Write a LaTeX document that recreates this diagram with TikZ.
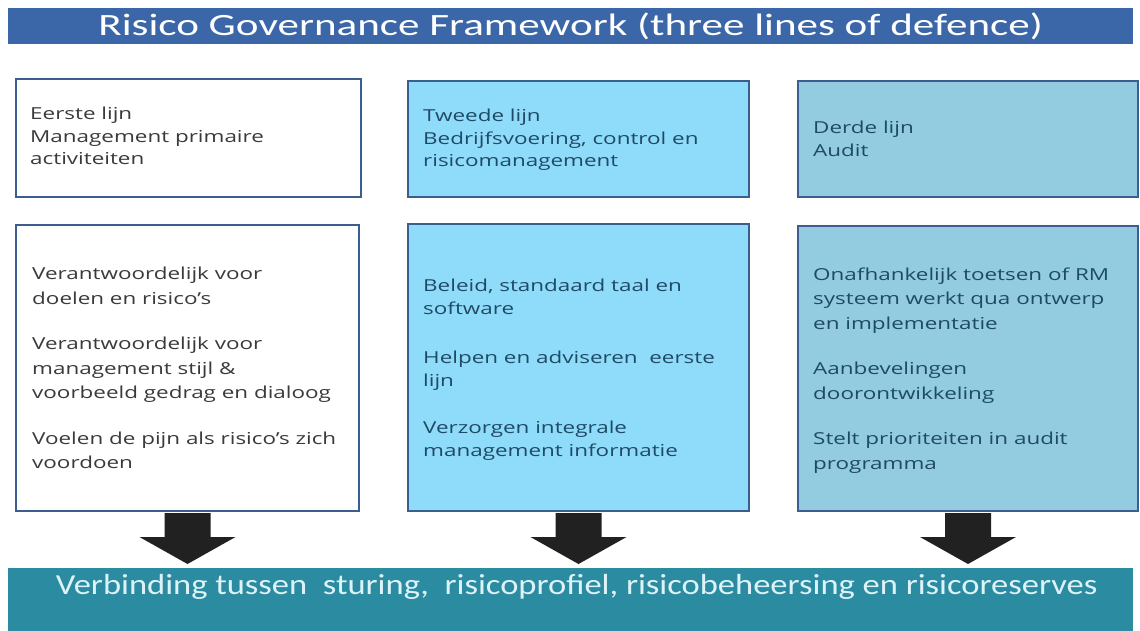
\documentclass[tikz,border=0pt]{standalone}
\usepackage{fontspec}
\setmainfont[FakeStretch=1.36]{Open Sans}
\newfontfamily\titlefont[FakeStretch=1.39]{Carlito}
\newfontfamily\barfont[FakeStretch=1.19]{Carlito}
\usetikzlibrary{calc}
\definecolor{titleblue}{HTML}{3B67A8}
\definecolor{barteal}{HTML}{2B8BA1}
\definecolor{boxborder}{HTML}{3C5E8F}
\definecolor{fillB}{HTML}{8FDCFA}
\definecolor{fillC}{HTML}{93CCE0}
\definecolor{txtgray}{HTML}{3A3A3A}
\definecolor{txtnavy}{HTML}{1F4A66}
\definecolor{bartext}{HTML}{DDF3F8}
\begin{document}
\begin{tikzpicture}[x=1pt,y=-1pt,
  box/.style={draw=boxborder,line width=2pt,inner sep=0pt,anchor=north west},
  boxtext/.style={anchor=north west,align=left,inner sep=0pt,font=\fontsize{16.5}{24.5}\selectfont},
  toptext/.style={boxtext,font=\fontsize{16.5}{22.5}\selectfont},
  blockarrow/.style={fill=black!87,draw=none}]
\useasboundingbox (0,0) rectangle (1140,630);
\fill[white] (0,0) rectangle (1140,630);
% title bar
\node[fill=titleblue,minimum width=1125pt,minimum height=36pt,inner sep=0pt,anchor=north west,
  font=\titlefont\fontsize{31}{31}\selectfont,text=white] (title) at (8,8) {Risico Governance Framework (three lines of defence)};
% top boxes
\node[box,fill=white,minimum width=345pt,minimum height=118pt] (t1) at (15,78) {};
\node[box,fill=fillB,minimum width=341pt,minimum height=116pt] (t2) at (407,80) {};
\node[box,fill=fillC,minimum width=340pt,minimum height=116pt] (t3) at (797,80) {};
% lower boxes
\node[box,fill=white,minimum width=343pt,minimum height=286pt] (l1) at (15,224) {};
\node[box,fill=fillB,minimum width=341pt,minimum height=287pt] (l2) at (407,223) {};
\node[box,fill=fillC,minimum width=340pt,minimum height=285pt] (l3) at (797,225) {};
% texts top
\node[toptext,text=txtgray] (t1txt) at ($(t1.north west)+(15,29)$) {Eerste lijn\\Management primaire\\activiteiten};
\node[toptext,text=txtnavy] (t2txt) at ($(t2.north west)+(16,29)$) {Tweede lijn\\Bedrijfsvoering, control en\\risicomanagement};
\node[toptext,text=txtnavy] (t3txt) at ($(t3.north west)+(16,41)$) {Derde lijn\\Audit};
% texts lower
\node[boxtext,text=txtgray] (l1txt) at ($(l1.north west)+(17,43)$) {Verantwoordelijk voor\\doelen en risico’s\\[21pt]Verantwoordelijk voor\\management stijl \&\\voorbeeld gedrag en dialoog\\[21pt]Voelen de pijn als risico’s zich\\voordoen};
\node[boxtext,text=txtnavy,font=\fontsize{16.5}{23}\selectfont] (l2txt) at ($(l2.north west)+(16,56)$) {Beleid, standaard taal en\\software\\[26pt]Helpen en adviseren\ \ eerste\\lijn\\[24pt]Verzorgen integrale\\management informatie};
\node[boxtext,text=txtnavy] (l3txt) at ($(l3.north west)+(16,42.5)$) {Onafhankelijk toetsen of RM\\systeem werkt qua ontwerp\\en implementatie\\[21pt]Aanbevelingen\\doorontwikkeling\\[21pt]Stelt prioriteiten in audit\\programma};
% bottom bar
\node[fill=barteal,minimum width=1125pt,minimum height=63pt,inner sep=0pt,anchor=north west] (bar) at (8,568) {};
\node[anchor=center,inner sep=0pt,text=bartext,font=\barfont\fontsize{29}{29}\selectfont] (bartxt) at ($(bar.north)+(6,19)$) {Verbinding tussen\ \ sturing,\ \ risicoprofiel, risicobeheersing en risicoreserves};
% block arrows
\foreach \b in {l1,l2,l3}{
  \fill[blockarrow] ($(\b.south)+(-23,1)$) -- ($(\b.south)+(23,1)$) -- ($(\b.south)+(23,25)$) -- ($(\b.south)+(48,25)$)
    -- ($(\b.south)+(0,52)$) -- ($(\b.south)+(-48,25)$) -- ($(\b.south)+(-23,25)$) -- cycle;
}
\end{tikzpicture}
\end{document}
